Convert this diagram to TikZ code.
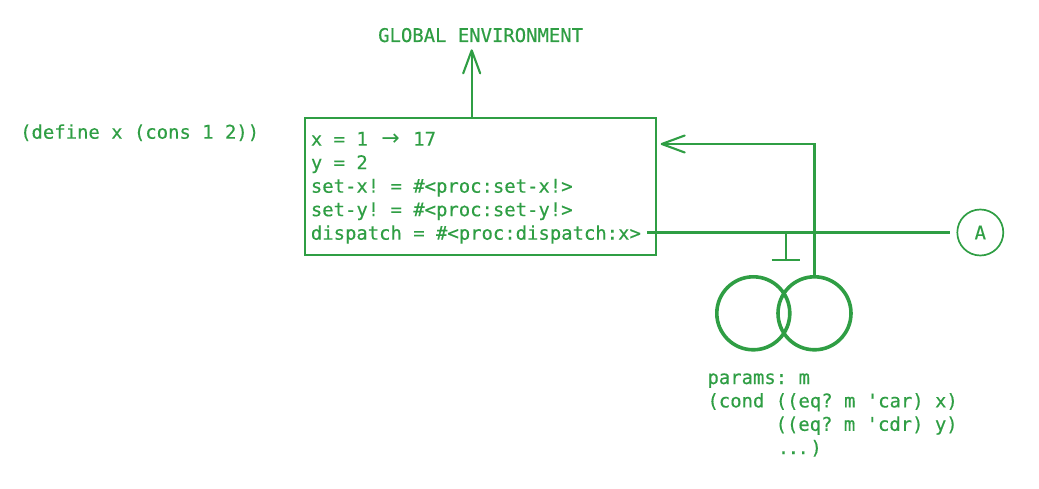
\documentclass[tikz,border=0pt]{standalone}
\usepackage{fontspec}
\setmonofont{DejaVu Sans Mono}[FakeBold=0.4]
\newfontfamily\arrowfont{DejaVu Sans}
\usetikzlibrary{arrows.meta}
\definecolor{eg}{HTML}{2F9E44}
\begin{document}
\begin{tikzpicture}[x=1pt,y=-1pt,
  ink/.style={draw=eg, line width=2.1pt},
  code/.style={font=\ttfamily\fontsize{18.9pt}{23.4pt}\selectfont, text=eg, inner sep=0pt, anchor=base west},
  tip/.style={-{Straight Barb[length=23pt, width=17pt, line cap=round, line join=round]}},
  ring/.style={draw=eg, circle, line width=3.6pt, minimum size=73pt, inner sep=0pt},
]
\useasboundingbox (0,0) rectangle (1039,489);

% texts
\node[code] (glob) at (378,42) {GLOBAL ENVIRONMENT};
\node[code] (def) at (20,138.7) {(define x (cons 1 2))};

% frame
\node[draw=eg, line width=2.1pt, minimum width=351.3pt, minimum height=137.3pt,
      anchor=north west, inner sep=0pt] (frame) at (304,116.7) {};
\node[code] (l1) at (310.7,145.7) {x = 1 \makebox[22.7pt][c]{\arrowfont\fontsize{22pt}{23.4pt}\selectfont →} 17};
\node[code] (l2) at (310.7,169.2) {y = 2};
\node[code] (l3) at (310.7,192.7) {set-x! = \#<proc:set-x!>};
\node[code] (l4) at (310.7,216.2) {set-y! = \#<proc:set-y!>};
\node[code] (l5) at (310.7,239.7) {dispatch = \#<proc:dispatch:x>};

% procedure object
\node[ring] (lc) at (753.3,313.3) {};
\node[ring] (rc) at (814.5,313.3) {};
\node[draw=eg, circle, line width=1.7pt, minimum size=46pt, inner sep=0pt,
      font=\ttfamily\fontsize{18.9pt}{23.4pt}\selectfont, text=eg] (A) at (980.3,232.5) {A};

\node[code] (p1) at (707.3,384) {params: m};
\node[code] (p2) at (707.3,407.4) {(cond ((eq? m \char"0027 car) x)};
\node[code] (p3) at (775.4,430.8) {((eq? m \char"0027 cdr) y)};
\node[code] (p4) at (777.6,454.2) {.\kern-1.5pt.\kern-1.5pt.\kern1.5pt)};

% connectors
\coordinate (gtip) at (471.7,49.3);
\draw[ink, tip] (frame.north -| gtip) -- (gtip);

\coordinate (etip) at (660.7,144);
\draw[ink, tip] (rc.north) |- (etip);

\coordinate (dstart) at (647,232.5);
\draw[ink] (dstart) -- ([xshift=-6pt]A.west);

\coordinate (tj) at (786,232.5);
\coordinate (tb) at (786,260);
\draw[ink] (tj) -- (tb);
\draw[ink] ([xshift=-14.3pt]tb) -- ([xshift=14pt]tb);
\end{tikzpicture}
\end{document}
